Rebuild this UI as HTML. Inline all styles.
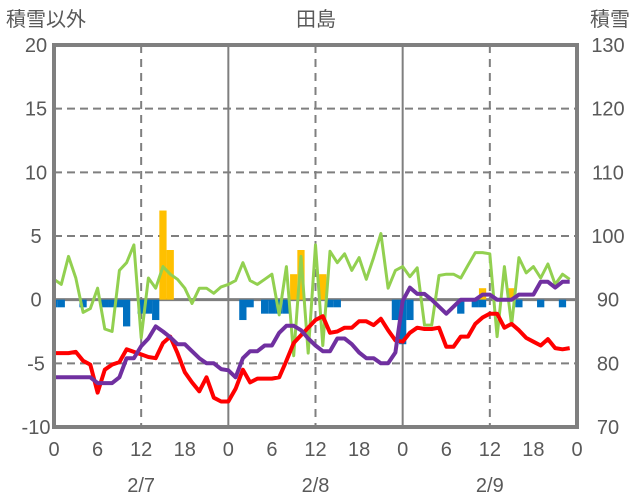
<!DOCTYPE html>
<html><head><meta charset="utf-8"><style>
html,body{margin:0;padding:0;background:#fff;}
svg{display:block;font-family:"Liberation Sans","Noto Sans CJK JP",sans-serif;}
</style></head><body>
<svg id="chart" width="636" height="501" viewBox="0 0 636 501">
<text x="6" y="26" font-size="20" fill="#595959">積雪以外</text>
<text x="316" y="26" font-size="20" fill="#595959" text-anchor="middle">田島</text>
<text x="630" y="26" font-size="20" fill="#595959" text-anchor="end">積雪</text>
<g id="grid"></g>
<g id="bars"></g>
<g id="lines"></g>
<g id="axes"></g>
</svg>
<script>
const leftTicks=[20,15,10,5,0,-5,-10];
const rightTicks=[130,120,110,100,90,80,70];
const hourLabels=["0","6","12","18","0","6","12","18","0","6","12","18","0"];
const dayLabels=["2/7","2/8","2/9"];
const greenVals=[1.6,1.2,3.4,1.7,-1.0,-0.7,0.9,-2.3,-2.5,2.3,2.9,4.3,-3.0,1.7,0.9,2.6,2.0,1.6,0.9,-0.3,0.9,0.9,0.5,1.0,1.2,1.5,2.9,1.5,1.2,1.6,2.0,-1.2,2.6,-4.4,3.4,-4.2,4.3,-3.6,3.8,2.9,3.6,2.3,3.3,1.6,3.3,5.2,0.9,2.3,2.6,1.8,2.5,-2.0,-2.0,1.9,2.0,2.0,1.7,2.7,3.7,3.7,3.6,-2.9,2.6,-2.0,3.3,2.1,2.6,1.7,2.8,1.2,2.0,1.6];
const redVals=[-4.2,-4.2,-4.2,-4.1,-4.8,-5.1,-7.3,-5.5,-5.1,-4.9,-3.9,-4.1,-4.3,-4.5,-4.6,-3.4,-2.9,-4.2,-5.7,-6.5,-7.2,-6.1,-7.7,-8.0,-8.0,-7.0,-5.5,-6.5,-6.2,-6.2,-6.2,-6.1,-4.8,-3.4,-2.8,-2.2,-1.6,-1.3,-2.6,-2.5,-2.2,-2.2,-1.7,-1.7,-2.0,-1.5,-2.4,-3.2,-3.3,-2.6,-2.2,-2.3,-2.3,-2.2,-3.7,-3.7,-2.9,-2.9,-1.9,-1.4,-1.1,-1.1,-2.2,-1.9,-2.4,-3.0,-3.3,-3.6,-3.1,-3.8,-3.9,-3.8];
const snowDepth=[77.8,77.8,77.8,77.8,77.8,77.8,76.9,76.9,76.9,77.8,80.8,80.8,82.7,83.9,85.8,85.0,84.1,83.0,83.0,81.9,80.8,80.0,80.0,79.1,78.9,77.8,80.8,81.9,81.9,82.8,82.8,84.8,85.9,85.9,85.2,83.9,82.8,81.9,81.9,83.9,83.9,83.0,81.7,80.8,80.8,80.0,80.0,81.7,89.8,91.9,90.9,90.9,90.0,88.9,87.8,88.9,90.0,90.0,90.0,90.8,90.8,90.0,90.0,90.0,90.8,90.8,90.8,92.8,92.8,91.9,92.8,92.8];
const orangeHours=[15,16,33,34,37,59,63];
const orangeVals=[7.0,3.9,2.0,3.9,2.0,0.9,0.9];
const blueHours=[0,1,4,7,8,9,10,12,13,14,26,27,29,30,31,32,38,39,47,48,49,56,58,59,64,67,70];
const blueVals=[-0.6,-0.6,-0.6,-0.6,-0.6,-0.6,-2.1,-1.1,-1.1,-1.6,-1.6,-0.6,-1.1,-1.1,-1.1,-1.1,-0.6,-0.6,-1.6,-3.5,-1.6,-1.1,-0.6,-0.6,-0.6,-0.6,-0.6];

const X0=54,X1=577,Y0=45,Y1=427;
const xs=h=>X0+h*(X1-X0)/72;
const yl=v=>Y0+(20-v)*(Y1-Y0)/30;
const yr=v=>Y0+(130-v)*(Y1-Y0)/60;
const NS="http://www.w3.org/2000/svg";
function mk(tag,parent,attrs){const e=document.createElementNS(NS,tag);for(const k in attrs)e.setAttribute(k,attrs[k]);parent.appendChild(e);return e;}
const grid=document.getElementById('grid'),bars=document.getElementById('bars'),lines=document.getElementById('lines'),axes=document.getElementById('axes');

leftTicks.forEach(v=>{
  if(v===20||v===-10||v===0)return;
  const l=mk('line',grid,{x1:X0,x2:X1,y1:yl(v),y2:yl(v),stroke:'#7f7f7f','stroke-width':2,'stroke-dasharray':'8,5'});
  
  
});
for(let h=12;h<72;h+=12){
  const day=h%24===0;
  const l=mk('line',grid,{x1:xs(h),x2:xs(h),y1:Y0,y2:Y1,stroke:'#7f7f7f','stroke-width':2});
  if(!day)l.setAttribute('stroke-dasharray','8,6');
  
  
}
const bw=(X1-X0)/72;
orangeHours.forEach((h,i)=>{
  const v=orangeVals[i];
  const x=Math.max(X0,xs(h)-bw/2);
  const r=mk('rect',bars,{x:x,y:yl(v),width:Math.min(xs(h)+bw/2,X1)-x,height:yl(0)-yl(v),fill:'#ffc000'});
  
  
});
blueHours.forEach((h,i)=>{
  const v=blueVals[i];
  const x=Math.max(X0,xs(h)-bw/2);
  const r=mk('rect',bars,{x:x,y:yl(0),width:Math.min(xs(h)+bw/2,X1)-x,height:yl(v)-yl(0),fill:'#0070c0'});
  
  
});
const z=mk('line',grid,{x1:X0,x2:X1,y1:yl(0),y2:yl(0),stroke:'#7f7f7f','stroke-width':3});


function path(vals,fy,color,w,name){
  const d=vals.map((v,i)=>(i?'L':'M')+xs(i).toFixed(1)+','+fy(v).toFixed(1)).join('');
  const p=mk('path',lines,{d:d,fill:'none',stroke:color,'stroke-width':w,'stroke-linejoin':'round'});
  
  
}
path(greenVals,yl,'#92d050',3,'green-line');
path(redVals,yl,'#ff0000',4,'red-line');
path(snowDepth,yr,'#7030a0',4,'snow-depth-line');

const f=mk('rect',axes,{x:X0,y:Y0,width:X1-X0,height:Y1-Y0,fill:'none',stroke:'#7f7f7f','stroke-width':4});


leftTicks.forEach(v=>{
  const t=mk('text',axes,{x:36,y:yl(v)+7,'font-size':20,fill:'#595959','text-anchor':'middle'});
  t.textContent=v;
  
  
});
rightTicks.forEach(v=>{
  const t=mk('text',axes,{x:608,y:yr(v)+7,'font-size':20,fill:'#595959','text-anchor':'middle'});
  t.textContent=v;
  
  
});
hourLabels.forEach((s,i)=>{
  const t=mk('text',axes,{x:xs(i*6),y:456,'font-size':20,fill:'#595959','text-anchor':'middle'});
  t.textContent=s;
  
  
});
dayLabels.forEach((s,i)=>{
  const t=mk('text',axes,{x:xs(i*24+12),y:492,'font-size':20,fill:'#595959','text-anchor':'middle'});
  t.textContent=s;
  
  
});
</script>
</body></html>
